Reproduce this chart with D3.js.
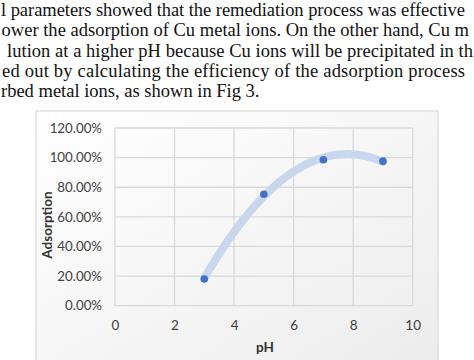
<!DOCTYPE html>
<html>
<head>
<meta charset="utf-8">
<script src="https://cdn.jsdelivr.net/npm/d3@7"></script>
<style>
  html, body { margin: 0; padding: 0; background: #ffffff; }
  svg { display: block; }
</style>
</head>
<body>
<svg id="chart" width="474" height="360"></svg>
<script>
// ---- data ----
const phValues = [3, 5, 7, 9];
const adsorption = [0.18, 0.753, 0.986, 0.976];
const xTicks = [0, 2, 4, 6, 8, 10];
const yTicks = [0, 0.2, 0.4, 0.6, 0.8, 1.0, 1.2];
const xTitle = "pH";
const yTitle = "Adsorption";
const paragraphLines = [
  "l parameters showed that the remediation process was effective",
  "ower the adsorption of Cu metal ions. On the other hand, Cu m",
  "lution at a higher pH because Cu ions will be precipitated in th",
  "ed out by calculating the efficiency of the adsorption process",
  "rbed metal ions, as shown in Fig 3."
];

const svg = d3.select("#chart");

// ---- paragraph text above the figure ----
const lineLayout = [
  {x: 1, end: 465, y: 15.5},
  {x: 1.5, end: 469, y: 36},
  {x: 7, end: 473, y: 56.5},
  {x: 2, end: 465, y: 77},
  {x: 1, end: null, y: 97}
];
const para = svg.append("g")
  .attr("font-family", "'Liberation Serif', 'Times New Roman', serif")
  .attr("font-size", 18.5)
  .attr("fill", "#111");
paragraphLines.forEach((t, i) => {
  const L = lineLayout[i];
  const el = para.append("text").attr("x", L.x).attr("y", L.y).text(t);
  if (L.end !== null) el.attr("textLength", L.end - L.x).attr("lengthAdjust", "spacing");
});

// ---- chart frame ----
const defs = svg.append("defs");
const grad = defs.append("linearGradient").attr("id", "bg")
  .attr("x1", "0").attr("y1", "0").attr("x2", "1").attr("y2", "1");
grad.append("stop").attr("offset", "0%").attr("stop-color", "#ffffff");
grad.append("stop").attr("offset", "100%").attr("stop-color", "#ececec");

svg.append("rect")
  .attr("x", 36).attr("y", 111)
  .attr("width", 402).attr("height", 260)
  .attr("fill", "url(#bg)")
  .attr("stroke", "#d9d9d9").attr("stroke-width", 1.2);

// ---- scales ----
const x = d3.scaleLinear().domain([0, 10]).range([115, 412.7]);
const y = d3.scaleLinear().domain([0, 1.2]).range([305.7, 128]);

// gridlines
const grid = svg.append("g").attr("stroke", "#d9d9d9").attr("stroke-width", 1.3);
grid.selectAll("line.h").data(yTicks).join("line")
  .attr("x1", x(0)).attr("x2", x(10))
  .attr("y1", d => y(d)).attr("y2", d => y(d));
grid.selectAll("line.v").data(xTicks).join("line")
  .attr("y1", y(0)).attr("y2", y(1.2))
  .attr("x1", d => x(d)).attr("x2", d => x(d));

// axes labels via d3 axes
const fmtPct = d3.format(".2%");
const yAxis = svg.append("g")
  .attr("transform", `translate(${x(0) - 13},0)`)
  .call(d3.axisLeft(y).tickValues(yTicks).tickFormat(fmtPct).tickSize(0).tickPadding(0));
yAxis.select(".domain").remove();
yAxis.selectAll("text")
  .attr("font-family", "Lato, 'Open Sans', sans-serif")
  .attr("font-size", 13.3).attr("fill", "#404040");

const xAxis = svg.append("g")
  .attr("transform", `translate(0,${y(0) + 15})`)
  .call(d3.axisBottom(x).tickValues(xTicks).tickFormat(d3.format("d")).tickSize(0).tickPadding(0));
xAxis.select(".domain").remove();
xAxis.selectAll("text")
  .attr("font-family", "Lato, 'Open Sans', sans-serif")
  .attr("font-size", 13.5).attr("fill", "#404040");

// axis titles
svg.append("text")
  .attr("x", 265).attr("y", 352)
  .attr("text-anchor", "middle")
  .attr("font-family", "Lato, 'Open Sans', sans-serif")
  .attr("font-weight", "bold").attr("font-size", 13.5).attr("fill", "#333")
  .text(xTitle);
svg.append("text")
  .attr("transform", "translate(51.5,225) rotate(-90)")
  .attr("text-anchor", "middle")
  .attr("font-family", "Lato, 'Open Sans', sans-serif")
  .attr("font-weight", "bold").attr("font-size", 13.5).attr("fill", "#333")
  .text(yTitle);

// ---- polynomial (order 2) least-squares trendline from the data ----
function quadFit(xs, ys) {
  const n = xs.length;
  let s = [0,0,0,0,0], t = [0,0,0];
  for (let i = 0; i < n; i++) {
    let p = 1;
    for (let k = 0; k <= 4; k++) { s[k] += p; if (k <= 2) t[k] += p * ys[i]; p *= xs[i]; }
  }
  const M = [[s[0], s[1], s[2], t[0]], [s[1], s[2], s[3], t[1]], [s[2], s[3], s[4], t[2]]];
  for (let c = 0; c < 3; c++) {
    for (let r = c + 1; r < 3; r++) {
      const f = M[r][c] / M[c][c];
      for (let k = c; k < 4; k++) M[r][k] -= f * M[c][k];
    }
  }
  const b = [0,0,0];
  for (let r = 2; r >= 0; r--) {
    let v = M[r][3];
    for (let k = r + 1; k < 3; k++) v -= M[r][k] * b[k];
    b[r] = v / M[r][r];
  }
  return xv => b[0] + b[1] * xv + b[2] * xv * xv;
}
const fit = quadFit(phValues, adsorption);
const trendX = d3.range(d3.min(phValues), d3.max(phValues) + 0.001, 0.05);
svg.append("path")
  .datum(trendX)
  .attr("fill", "none")
  .attr("stroke", "#c8d6ee")
  .attr("stroke-width", 8)
  .attr("stroke-linecap", "round")
  .attr("d", d3.line().x(d => x(d)).y(d => y(fit(d))));

// ---- markers ----
svg.selectAll("circle.pt").data(phValues).join("circle")
  .attr("cx", d => x(d))
  .attr("cy", (d, i) => y(adsorption[i]))
  .attr("r", 3.8)
  .attr("fill", "#4472c4");
</script>
</body>
</html>
